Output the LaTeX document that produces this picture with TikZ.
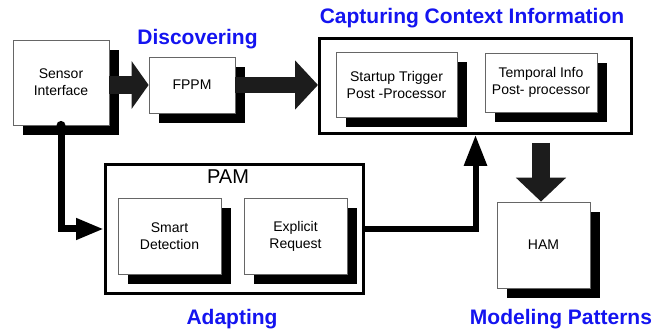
\documentclass[tikz,border=0pt]{standalone}
\usepackage{fontspec}
\setmainfont{Liberation Sans}
\usetikzlibrary{arrows.meta,shadows,positioning}
\definecolor{stageblue}{RGB}{20,20,240}
\definecolor{fatgray}{RGB}{28,28,28}
\tikzset{
  unit/.style={draw=black!60, fill=white, line width=0.8pt, align=center,
    font=\fontsize{14}{17}\selectfont,
    general shadow={fill=black, shadow xshift=10pt, shadow yshift=-10pt}},
  group/.style={draw=black, line width=3pt, fill=white},
  stage/.style={text=stageblue, font=\fontsize{21}{25}\bfseries, anchor=base},
  fatarrow/.style={draw=fatgray},
  link/.style={draw=black, line width=7pt},
}

\begin{document}
\begin{tikzpicture}[x=1pt,y=-1pt]
\useasboundingbox (0,0) rectangle (665,331);
% outer groups
\node[group, minimum width=312pt, minimum height=95pt] (cap) at (475.5,86) {};
\node[group, minimum width=258pt, minimum height=129pt] (pam) at (234.5,229) {};
\node[font=\fontsize{20}{24}\selectfont, anchor=base] (pamlabel) at (228,184) {PAM};
% units
\node[unit, minimum width=96pt, minimum height=85pt] (sensor) at (61,82.5) {Sensor\\Interface};
\node[unit, minimum width=86pt, minimum height=56pt] (fppm) at (192,85) {FPPM};
\node[unit, minimum width=121pt, minimum height=65pt] (trigger) at (396.5,84.5) {Startup Trigger\\Post -Processor};
\node[unit, minimum width=112pt, minimum height=59pt] (temporal) at (541,82.5) {Temporal Info\\Post- processor};
\node[unit, minimum width=103pt, minimum height=76pt] (smart) at (169.5,236) {Smart\\Detection};
\node[unit, minimum width=103pt, minimum height=76pt] (explicit) at (295.5,236) {Explicit\\Request};
\node[unit, minimum width=93pt, minimum height=86pt] (ham) at (543.5,245) {HAM};
% stage titles
\node[stage] (discovering) at (197.5,45) {Discovering};
\node[stage] (capturing) at (472,24) {Capturing Context Information};
\node[stage] (adapting) at (232,325) {Adapting};
\node[stage] (modeling) at (561,325) {Modeling Patterns};
% arrows
\coordinate (hamin) at (541,143);
\draw[fatarrow, line width=18pt, -{Triangle[length=17pt,width=47pt]}] (sensor.east |- fppm.west) -- (fppm.west);
\draw[fatarrow, line width=16pt, -{Triangle[length=23pt,width=48pt]}] (fppm.east) -- (cap.west |- fppm.east);
\draw[fatarrow, line width=18pt, -{Triangle[length=24pt,width=49pt]}] (hamin) -- (hamin |- ham.north);
\draw[link, -{Triangle[length=28pt,width=20pt]}] (sensor.south) |- (pam.west);
\fill (sensor.south) circle (4.5);
\draw[link, line width=6pt, -{Triangle[length=31pt,width=22pt]}] (pam.east) -| (cap.south);
\end{tikzpicture}
\end{document}
